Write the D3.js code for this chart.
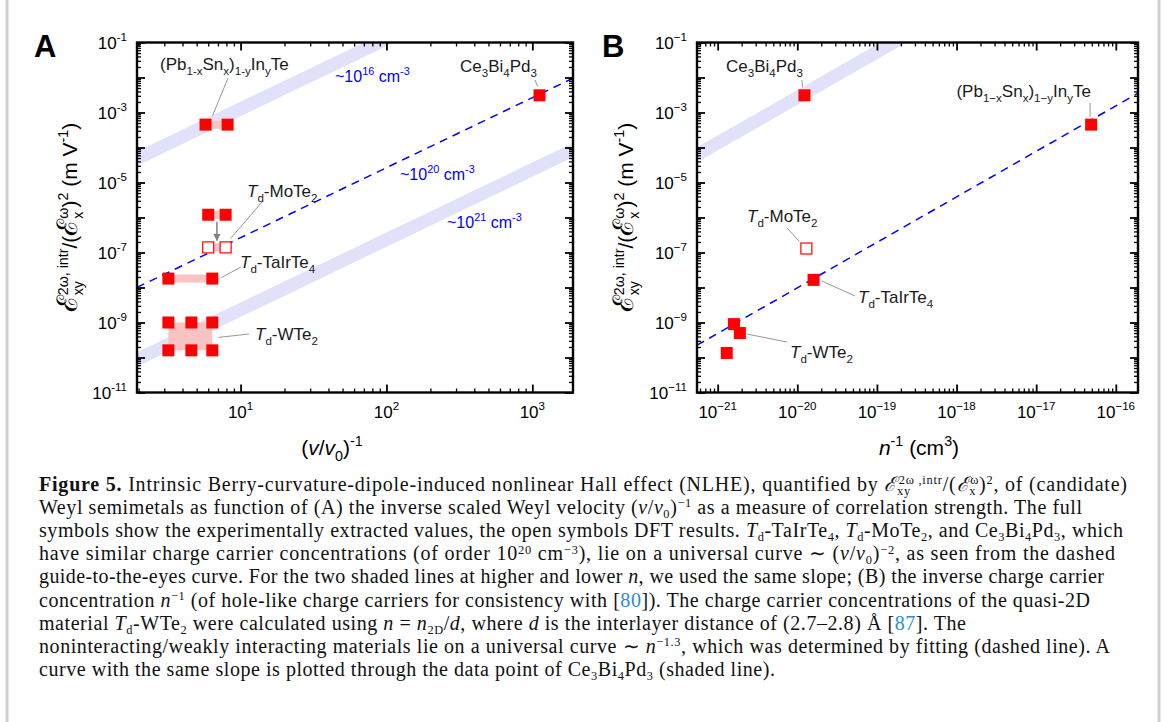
<!DOCTYPE html>
<html>
<head>
<meta charset="utf-8">
<script src="https://cdn.jsdelivr.net/npm/d3@7"></script>
<style>
  body { margin: 0; background: #fff; }
  svg text { font-family: "Liberation Sans", Arial, sans-serif; }
  .cap text { font-family: "Liberation Serif", "Times New Roman", serif; }
</style>
</head>
<body>
<svg id="fig" width="1167" height="722"></svg>
<script>
// ---- data ----
// panel A: x = (v/v0)^-1, y = E_xy(2w,intr) / (E_x(w))^2 in m/V
const pbA = [[5.75, 4.5e-4], [8.15, 4.5e-4]];
const ceA = [[1120, 3.1e-3]];
const moExpA = [[6.0, 1.2e-6], [7.9, 1.2e-6]];
const moDftA = [[6.0, 1.4e-7], [7.9, 1.4e-7]];
const taA = [[3.2, 1.8e-8], [6.4, 1.8e-8]];
const wA = [[3.2, 1.0e-9], [4.6, 1.0e-9], [6.4, 1.0e-9],
            [3.2, 1.6e-10], [4.6, 1.6e-10], [6.4, 1.6e-10]];

// panel B: x = n^-1 in cm^3
const ceB = [[1.23e-20, 3.1e-3]];
const pbB = [[4.9e-17, 4.5e-4]];
const moDftB = [[1.3e-20, 1.3e-7]];
const taB = [[1.6e-20, 1.65e-8]];
const wB = [[1.6e-21, 9.0e-10], [1.9e-21, 5.0e-10], [1.3e-21, 1.35e-10]];

// guide curves y = c * x^p
const guidesA = [
  { c: 1.26e-5, p: 2, type: "band" },   // ~1e16 cm^-3
  { c: 2.65e-9, p: 2, type: "dash" },   // ~1e20 cm^-3
  { c: 2.33e-11, p: 2, type: "band" }   // ~1e21 cm^-3
];
const guidesB = [
  { c: 2.69e23, p: 1.3, type: "band" },
  { c: 9.75e17, p: 1.3, type: "dash" }
];

const yDomain = [1e-11, 1e-1];
const xDomainA = [1.95, 1900];
const xDomainB = [5.5e-22, 1.9e-16];
const yLabelsA = ["10^{-1}", "10^{-3}", "10^{-5}", "10^{-7}", "10^{-9}", "10^{-11}"];
const yLabelsB = ["10^{−1}", "10^{−3}", "10^{−5}", "10^{−7}", "10^{−9}", "10^{−11}"];
const xLabelsA = ["10^{1}", "10^{2}", "10^{3}"];
const xLabelsB = ["10^{−21}", "10^{−20}", "10^{−19}", "10^{−18}", "10^{−17}", "10^{−16}"];

const captionLines = [
  "#{Figure 5.} Intrinsic Berry-curvature-dipole-induced nonlinear Hall effect (NLHE), quantified by *{ℰ}_^{xy|2ω ,intr}/(*{ℰ}_^{x|ω})^{2}, of (candidate)",
  "Weyl semimetals as function of (A) the inverse scaled Weyl velocity (*{v}/*{v}_{0})^{−1} as a measure of correlation strength. The full",
  "symbols show the experimentally extracted values, the open symbols DFT results. *{T}_{d}-TaIrTe_{4}, *{T}_{d}-MoTe_{2}, and Ce_{3}Bi_{4}Pd_{3}, which",
  "have similar charge carrier concentrations (of order 10^{20} cm^{−3}), lie on a universal curve ∼ (*{v}/*{v}_{0})^{−2}, as seen from the dashed",
  "guide-to-the-eyes curve. For the two shaded lines at higher and lower *{n}, we used the same slope; (B) the inverse charge carrier",
  "concentration *{n}^{−1} (of hole-like charge carriers for consistency with [%{80}]). The charge carrier concentrations of the quasi-2D",
  "material *{T}_{d}-WTe_{2} were calculated using *{n} = *{n}_{2D}/*{d}, where *{d} is the interlayer distance of (2.7–2.8) Å [%{87}]. The",
  "noninteracting/weakly interacting materials lie on a universal curve ∼ *{n}^{−1.3}, which was determined by fitting (dashed line). A",
  "curve with the same slope is plotted through the data point of Ce_{3}Bi_{4}Pd_{3} (shaded line)."
];
const captionEnds = [1127, 1082, 1123, 1115, 1104, 1090, 966, 1110, 775];

// ---- drawing ----
const svg = d3.select("#fig");
const plotTop = 42.5, plotBottom = 392.5;
const red = "#ff0000", pink = "#fac3c3", lav = "#e1e1f9", blue = "#0000ff", lead = "#8a8a8a";

svg.append("rect").attr("width", 1167).attr("height", 722).attr("fill", "#fff");
[7, 1159].forEach(function(xx) {
  svg.append("line").attr("x1", xx).attr("x2", xx).attr("y1", 0).attr("y2", 722)
    .attr("stroke", "#d0d0d0").attr("stroke-width", 3);
});

const defs = svg.append("defs");
defs.append("marker").attr("id", "arr").attr("viewBox", "0 0 10 10")
  .attr("refX", 9).attr("refY", 5).attr("markerWidth", 5).attr("markerHeight", 5)
  .attr("orient", "auto")
  .append("path").attr("d", "M0,0L10,5L0,10z").attr("fill", "#808080");

const RE = /(_\^\{[^}]*\}|\^\{[^}]*\}|_\{[^}]*\}|\*\{[^}]*\}|#\{[^}]*\}|%\{[^}]*\}|@\{[^}]*\})/;

// text with simple markup: ^{} sup, _{} sub, _^{a|b} stacked, *{} italic, #{} bold, %{} link, @{} big
function rich(el, str, fs, o) {
  o = o || { up: 0.42, down: 0.3, k: 0.68 };
  let cur = 0;
  const small = fs * o.k;
  function put(t, shift, size, style) {
    const ts = el.append("tspan").text(t).attr("font-size", size).attr("dy", shift - cur);
    cur = shift;
    if (style) for (const k in style) ts.style(k, style[k]);
    return ts;
  }
  str.split(RE).forEach(function(p) {
    if (!p) return;
    let m;
    if ((m = p.match(/^_\^\{(.*)\|(.*)\}$/))) {
      const a = put(m[1], o.down * fs, small);
      const w = a.node().getComputedTextLength();
      put(m[2], -o.up * fs, small).attr("dx", -w);
    } else if ((m = p.match(/^\^\{(.*)\}$/))) put(m[1], -o.up * fs, small);
    else if ((m = p.match(/^_\{(.*)\}$/))) put(m[1], o.down * fs, small);
    else if ((m = p.match(/^\*\{(.*)\}$/))) put(m[1], 0, fs, { "font-style": "italic" });
    else if ((m = p.match(/^#\{(.*)\}$/))) put(m[1], 0, fs, { "font-weight": "bold" });
    else if ((m = p.match(/^%\{(.*)\}$/))) put(m[1], 0, fs, { fill: "#2b8ccc" });
    else if ((m = p.match(/^@\{(.*)\}$/))) put(m[1], 0, fs * 1.35);
    else put(p, 0, fs);
  });
  return el;
}

function label(g, x, y, str, fs, anchor, color) {
  const t = g.append("text").attr("x", x).attr("y", y)
    .attr("text-anchor", anchor || "start").attr("fill", color || "#1a1a1a");
  return rich(t, str, fs);
}

function logTicks(domain) {
  const lo = Math.floor(Math.log10(domain[0])), hi = Math.ceil(Math.log10(domain[1]));
  const major = [], minor = [];
  for (let e = lo; e <= hi; e++) {
    const b = Math.pow(10, e);
    if (b >= domain[0] * 0.999 && b <= domain[1] * 1.001) major.push(b);
    for (let m = 2; m < 10; m++) {
      const v = m * b;
      if (v >= domain[0] && v <= domain[1]) minor.push(v);
    }
  }
  return [major, minor];
}

function drawPanel(p) {
  const g = svg.append("g");
  const x = d3.scaleLog().domain(p.xDomain).range([p.left, p.right]);
  const y = d3.scaleLog().domain(yDomain).range([plotBottom, plotTop]);

  defs.append("clipPath").attr("id", "clip" + p.id).append("rect")
    .attr("x", p.left).attr("y", plotTop)
    .attr("width", p.right - p.left).attr("height", plotBottom - plotTop);
  const body = g.append("g").attr("clip-path", "url(#clip" + p.id + ")");

  // guide lines
  const line = d3.line().x(function(d) { return x(d[0]); }).y(function(d) { return y(d[1]); });
  p.guides.forEach(function(gd) {
    const pts = p.xDomain.map(function(v) { return [v, gd.c * Math.pow(v, gd.p)]; });
    body.append("path").datum(pts).attr("d", line).attr("fill", "none")
      .attr("stroke", gd.type == "band" ? lav : blue)
      .attr("stroke-width", gd.type == "band" ? 13 : 1.5)
      .attr("stroke-dasharray", gd.type == "band" ? null : "8,6");
  });

  // shaded ranges between paired results
  p.ranges.forEach(function(r) {
    const xs = d3.extent(r, function(d) { return x(d[0]); });
    const ys = d3.extent(r, function(d) { return y(d[1]); });
    const h = Math.max(ys[1] - ys[0], 8);
    const yc = (ys[0] + ys[1]) / 2;
    body.append("rect").attr("x", xs[0]).attr("y", yc - h / 2)
      .attr("width", xs[1] - xs[0]).attr("height", h).attr("fill", pink);
  });

  if (p.arrow) {
    const ax = Math.sqrt(p.arrow[0][0][0] * p.arrow[0][1][0]);
    body.append("line").attr("x1", x(ax)).attr("x2", x(ax))
      .attr("y1", y(p.arrow[0][0][1]) + 7).attr("y2", y(p.arrow[1][0][1]) - 7)
      .attr("stroke", "#808080").attr("stroke-width", 1.5).attr("marker-end", "url(#arr)");
  }

  // symbols
  p.filled.forEach(function(set) {
    body.selectAll(null).data(set).enter().append("rect")
      .attr("x", function(d) { return x(d[0]) - 6; })
      .attr("y", function(d) { return y(d[1]) - 6; })
      .attr("width", 12).attr("height", 12).attr("fill", red);
  });
  p.open.forEach(function(set) {
    body.selectAll(null).data(set).enter().append("rect")
      .attr("x", function(d) { return x(d[0]) - 5.5; })
      .attr("y", function(d) { return y(d[1]) - 5.5; })
      .attr("width", 11).attr("height", 11).attr("fill", "#fff")
      .attr("stroke", red).attr("stroke-width", 1.2);
  });

  // axes: inward ticks on all four sides
  const [xMaj, xMin] = logTicks(p.xDomain);
  const [yMaj, yMin] = logTicks(yDomain);
  function ticks(axisFn, scale, vals, size, tr, sw) {
    g.append("g").attr("transform", tr)
      .call(axisFn(scale).tickValues(vals).tickSizeInner(size).tickSizeOuter(0).tickFormat(""))
      .call(function(a) { a.select(".domain").remove(); })
      .selectAll("line").attr("stroke", "#000").attr("stroke-width", sw);
  }
  ticks(d3.axisBottom, x, xMaj, -8, "translate(0," + plotBottom + ")", 1.8);
  ticks(d3.axisBottom, x, xMin, -4, "translate(0," + plotBottom + ")", 1.3);
  ticks(d3.axisTop, x, xMaj, -8, "translate(0," + plotTop + ")", 1.8);
  ticks(d3.axisTop, x, xMin, -4, "translate(0," + plotTop + ")", 1.3);
  ticks(d3.axisLeft, y, yMaj, -8, "translate(" + p.left + ",0)", 1.8);
  ticks(d3.axisLeft, y, yMin, -4, "translate(" + p.left + ",0)", 1.3);
  ticks(d3.axisRight, y, yMaj, -8, "translate(" + p.right + ",0)", 1.8);
  ticks(d3.axisRight, y, yMin, -4, "translate(" + p.right + ",0)", 1.3);

  g.append("rect").attr("x", p.left).attr("y", plotTop)
    .attr("width", p.right - p.left).attr("height", plotBottom - plotTop)
    .attr("fill", "none").attr("stroke", "#000").attr("stroke-width", 2.4);

  // tick labels
  xMaj.forEach(function(v, i) {
    label(g, x(v), plotBottom + 25, p.xLabels[i], 17, "middle", "#000");
  });
  yMaj.filter(function(v, i) { return i % 2 == 0; }).reverse().forEach(function(v, i) {
    label(g, p.left - 10, y(v) + 6, p.yLabels[i], 17, "end", "#000");
  });

  // axis titles
  label(g, p.xTitleX, 455, p.xTitle, 21, "middle", "#000");
  const yt = g.append("text").attr("text-anchor", "middle").attr("fill", "#000")
    .attr("transform", "translate(" + (p.left - p.yTitleGap) + "," + ((plotTop + plotBottom) / 2) + ") rotate(-90)");
  rich(yt, "@{ℰ}_^{xy|2ω, intr}/(@{ℰ}_^{x|ω})^{2} (m V^{-1})", 21);

  g.append("text").attr("x", p.left - p.letterGap).attr("y", 57)
    .attr("font-size", 31).attr("font-weight", "bold").text(p.id);

  // annotations
  p.notes.forEach(function(n) {
    label(g, n.tx, n.ty, n.text, n.fs || 17, n.anchor, n.color);
    if (n.at) {
      const px = x(n.at[0]) + n.off[0], py = y(n.at[1]) + n.off[1];
      g.append("line").attr("x1", n.from[0]).attr("y1", n.from[1])
        .attr("x2", px).attr("y2", py).attr("stroke", lead).attr("stroke-width", 0.9);
    }
  });
}

drawPanel({
  id: "A", left: 137, right: 573, xDomain: xDomainA,
  xLabels: xLabelsA, yLabels: yLabelsA,
  xTitle: "(*{v}/*{v}_{0})^{-1}", xTitleX: 332, yTitleGap: 60, letterGap: 103,
  guides: guidesA,
  ranges: [pbA, moExpA, moDftA, taA, wA],
  filled: [pbA, ceA, moExpA, taA, wA],
  open: [moDftA],
  arrow: [moExpA, moDftA],
  notes: [
    { tx: 160, ty: 70, text: "(Pb_{1-x}Sn_{x})_{1-y}In_{y}Te", from: [228, 78], at: [Math.sqrt(pbA[0][0] * pbA[1][0]), pbA[0][1]], off: [-4, -9] },
    { tx: 537, ty: 72, anchor: "end", text: "Ce_{3}Bi_{4}Pd_{3}", from: [535, 80], at: ceA[0], off: [-2, -9] },
    { tx: 335, ty: 82, text: "~10^{16} cm^{-3}", fs: 16, color: blue },
    { tx: 400, ty: 180, text: "~10^{20} cm^{-3}", fs: 16, color: blue },
    { tx: 447, ty: 228, text: "~10^{21} cm^{-3}", fs: 16, color: blue },
    { tx: 247, ty: 197, text: "*{T}_{d}-MoTe_{2}", from: [262, 202], at: moDftA[1], off: [5, -9] },
    { tx: 240, ty: 268, text: "*{T}_{d}-TaIrTe_{4}", from: [241, 267], at: taA[1], off: [9, -1] },
    { tx: 255, ty: 340, text: "*{T}_{d}-WTe_{2}", from: [249, 334], at: [wA[2][0], Math.sqrt(wA[2][1] * wA[5][1])], off: [6, 1] }
  ]
});

drawPanel({
  id: "B", left: 697, right: 1138, xDomain: xDomainB,
  xLabels: xLabelsB, yLabels: yLabelsB,
  xTitle: "*{n}^{-1} (cm^{3})", xTitleX: 919, yTitleGap: 64, letterGap: 95,
  guides: guidesB,
  ranges: [],
  filled: [ceB, pbB, taB, wB],
  open: [moDftB],
  notes: [
    { tx: 803, ty: 72, anchor: "end", text: "Ce_{3}Bi_{4}Pd_{3}", from: [802, 80], at: ceB[0], off: [-2, -8] },
    { tx: 1091, ty: 97, anchor: "end", text: "(Pb_{1−x}Sn_{x})_{1−y}In_{y}Te", from: [1090, 103], at: pbB[0], off: [-1, -8] },
    { tx: 747, ty: 222, text: "*{T}_{d}-MoTe_{2}", from: [787, 228], at: moDftB[0], off: [-7, -7] },
    { tx: 858, ty: 303, text: "*{T}_{d}-TaIrTe_{4}", from: [855, 296], at: taB[0], off: [8, 1] },
    { tx: 790, ty: 358, text: "*{T}_{d}-WTe_{2}", from: [787, 342], at: wB[1], off: [7, 1] }
  ]
});

// caption
const cap = svg.append("g").attr("class", "cap");
captionLines.forEach(function(s, i) {
  const t = cap.append("text").attr("x", 39).attr("y", 491 + i * 23.1).attr("fill", "#111");
  rich(t, s, 20, { up: 0.34, down: 0.2, k: 0.62 });
  t.attr("textLength", captionEnds[i] - 39).attr("lengthAdjust", "spacing");
});
</script>
</body>
</html>
